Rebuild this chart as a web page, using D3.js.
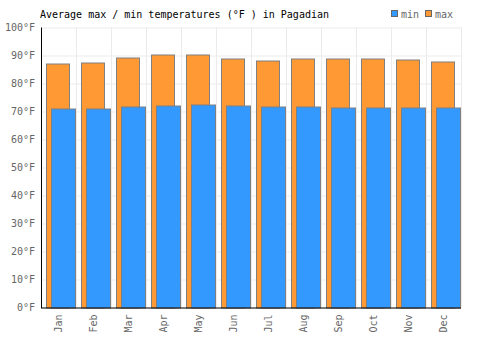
<!DOCTYPE html>
<html>
<head>
<meta charset="utf-8">
<script src="https://cdn.jsdelivr.net/npm/d3@7"></script>
<style>
  body { margin: 0; background: #fff; }
  text { font-family: "DejaVu Sans Mono", monospace; }
</style>
</head>
<body>
<svg id="chart" width="500" height="350"></svg>
<script>
// monthly averages
var months = ["Jan", "Feb", "Mar", "Apr", "May", "Jun", "Jul", "Aug", "Sep", "Oct", "Nov", "Dec"];
var maxTemps = [87.2, 87.6, 89.3, 90.4, 90.4, 88.9, 88.2, 88.9, 88.9, 88.9, 88.6, 87.9];
var minTemps = [71.1, 71.1, 71.8, 72.1, 72.5, 72.1, 71.8, 71.8, 71.4, 71.4, 71.4, 71.4];
var yTicks = [0, 10, 20, 30, 40, 50, 60, 70, 80, 90, 100];

var margin = {left: 41, right: 39, top: 27.5, bottom: 42.5};
var width = 500 - margin.left - margin.right;
var height = 350 - margin.top - margin.bottom;

var svg = d3.select("#chart");
var g = svg.append("g")
    .attr("transform", "translate(" + margin.left + "," + margin.top + ")");

var x = d3.scaleBand().domain(months).range([0, width]);
var y = d3.scaleLinear().domain([0, 100]).range([height, 0]);

// grid
g.selectAll(".hgrid")
    .data(yTicks)
    .enter().append("line")
    .attr("x1", 0).attr("x2", width)
    .attr("y1", d => Math.round(y(d)) + 0.5)
    .attr("y2", d => Math.round(y(d)) + 0.5)
    .attr("stroke", "#ebebeb");

g.selectAll(".vgrid")
    .data(months)
    .enter().append("line")
    .attr("x1", (d, i) => Math.round(x(d) + x.step()) + 0.5)
    .attr("x2", (d, i) => Math.round(x(d) + x.step()) + 0.5)
    .attr("y1", 0).attr("y2", height)
    .attr("stroke", "#ebebeb");

// max bars
g.selectAll(".maxbar")
    .data(maxTemps)
    .enter().append("rect")
    .attr("x", (d, i) => Math.round(x(months[i]) + 5) + 0.5)
    .attr("width", 23)
    .attr("y", d => Math.round(y(d)) + 0.5)
    .attr("height", d => y(0) - Math.round(y(d)))
    .attr("fill", "#ff9933")
    .attr("stroke", "#808080");

// min bars
g.selectAll(".minbar")
    .data(minTemps)
    .enter().append("rect")
    .attr("x", (d, i) => Math.round(x(months[i]) + 10) + 0.5)
    .attr("width", 24)
    .attr("y", d => Math.round(y(d)) + 0.5)
    .attr("height", d => y(0) - Math.round(y(d)))
    .attr("fill", "#3399ff")
    .attr("stroke", "#808080");

// axes
var yAxis = g.append("g")
    .call(d3.axisLeft(y).tickValues(yTicks).tickSize(0).tickPadding(6).tickFormat(d => d + "°F"));
yAxis.select(".domain").remove();
yAxis.selectAll("text").attr("fill", "#666").style("font-size", "10px");

var xAxis = g.append("g")
    .attr("transform", "translate(0," + height + ")")
    .call(d3.axisBottom(x).tickSize(0));
xAxis.select(".domain").remove();
xAxis.selectAll("text")
    .attr("fill", "#666")
    .style("font-size", "10px")
    .attr("transform", "rotate(-90)")
    .attr("text-anchor", "end")
    .attr("x", -7)
    .attr("y", 0)
    .attr("dy", "0.35em");

g.append("line")
    .attr("x1", 0.5).attr("x2", 0.5).attr("y1", 0).attr("y2", height + 0.5)
    .attr("stroke", "#000");
g.append("line")
    .attr("x1", 0).attr("x2", width).attr("y1", height + 0.5).attr("y2", height + 0.5)
    .attr("stroke", "#000");

// title
svg.append("text")
    .attr("x", 40).attr("y", 18)
    .style("font-size", "10px")
    .attr("fill", "#000")
    .text("Average max / min temperatures (°F ) in Pagadian");

// legend
var legend = [["min", "#3399ff", 391], ["max", "#ff9933", 425]];
legend.forEach(function (l) {
    svg.append("rect")
        .attr("x", l[2] + 0.5).attr("y", 10.5)
        .attr("width", 6).attr("height", 6)
        .attr("fill", l[1]).attr("stroke", "#666");
    svg.append("text")
        .attr("x", l[2] + 10).attr("y", 18)
        .style("font-size", "10px")
        .attr("fill", "#666")
        .text(l[0]);
});
</script>
</body>
</html>
